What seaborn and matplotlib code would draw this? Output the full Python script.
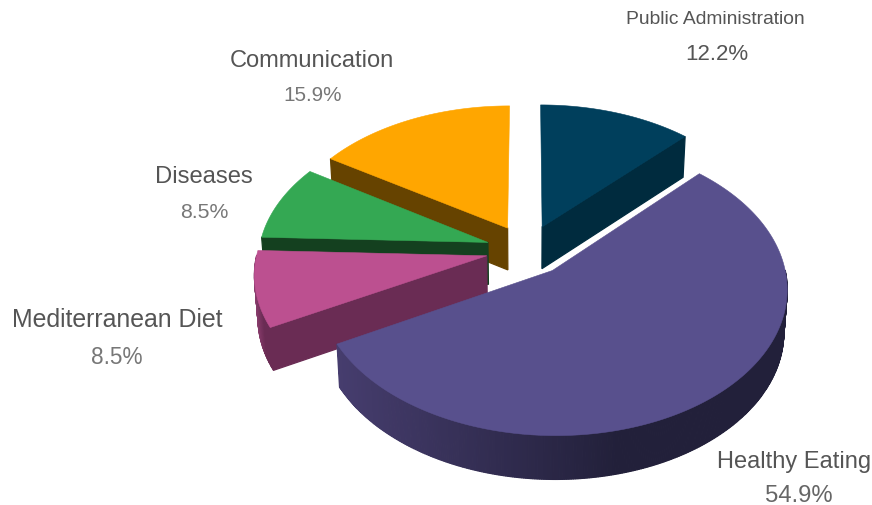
import numpy as np
import matplotlib
matplotlib.use("Agg")
import matplotlib.pyplot as plt
import seaborn as sns

# Slices clockwise from twelve o'clock
topics = ["Public Administration", "Healthy Eating", "Mediterranean Diet", "Diseases", "Communication"]
shares = [12.2, 54.9, 8.5, 8.5, 15.9]
top_colors = ["#003f5c", "#58508d", "#bc5090", "#34a853", "#ffa600"]
cut_colors = ["#002b3e", "#22203a", "#6a2c54", "#14401f", "#664300"]
rim_left_colors = ["#002b3e", "#463d6e", "#8d3f70", "#14401f", "#664300"]
rim_right_colors = ["#002b3e", "#22203a", "#6a2c54", "#14401f", "#664300"]
draw_order = [0, 4, 3, 2, 1]

label_x = [715, 794, 117, 204, 312]
label_y = [19, 462, 320, 177, 61]
pct_x = [717, 799, 117, 204, 313]
pct_y = [54, 496, 358, 213, 95]
label_sizes = [13.9, 17.0, 17.9, 17.1, 17.0]
pct_sizes = [16.0, 17.2, 16.3, 15.3, 14.9]
pct_colors = ["#555555", "#666666", "#777777", "#777777", "#777777"]

# Projection of the tilted disc onto the page, in pixels
CENTER_X, CENTER_Y = 527, 251
RADIUS_X, RADIUS_Y = 229, 141
PERSPECTIVE = 0.115
DEPTH = 42
BASE_SHRINK = 0.013
EXPLODE = 0.18


def project(x, y, drop=0.0):
    scale = 1 / (1 - PERSPECTIVE * y)
    page_x = CENTER_X + RADIUS_X * x * scale * (1 - BASE_SHRINK * drop)
    page_y = CENTER_Y + RADIUS_Y * y * scale + drop * DEPTH * scale ** 0.3
    return page_x, page_y


def wedge_outline(start, stop):
    middle = np.radians((start + stop) / 2)
    off_x, off_y = EXPLODE * np.sin(middle), -EXPLODE * np.cos(middle)
    theta = np.radians(np.linspace(start, stop, int(stop - start) * 2 + 2))
    return off_x, off_y, off_x + np.sin(theta), off_y - np.cos(theta)


def wall(ax, x, y, color):
    top_x, top_y = project(x, y)
    low_x, low_y = project(x, y, 1.0)
    ax.fill(np.r_[top_x, low_x[::-1]], np.r_[top_y, low_y[::-1]],
            color=color, lw=0.9, zorder=next(z_counter))


sns.set_theme(style="white")
plt.rcParams["font.family"] = ["Liberation Sans", "DejaVu Sans"]

fig = plt.figure(figsize=(8.72, 5.06), dpi=100)
ax = fig.add_axes([0, 0, 1, 1])
ax.set_xlim(0, 872)
ax.set_ylim(506, 0)
ax.axis("off")
z_counter = iter(range(1, 100000))

edges = np.r_[0, np.cumsum(shares)] / np.sum(shares) * 360

for i in draw_order:
    start, stop = edges[i], edges[i + 1]
    ox, oy, xs, ys = wedge_outline(start, stop)

    # Curved rim: only the part turned towards the viewer
    ramp = sns.blend_palette([rim_left_colors[i], rim_right_colors[i]], 150)
    screen_x = project(xs, ys)[0]
    span = screen_x.max() - screen_x.min()
    for s in np.argsort(ys[:-1]):
        if ys[s:s + 2].mean() - oy <= 0:
            continue
        t = np.clip((screen_x[s:s + 2].mean() - screen_x.min()) / (0.62 * span), 0, 1)
        wall(ax, xs[s:s + 2], ys[s:s + 2], ramp[int(t * 149)])

    # Straight cut faces, drawn only when they face forward
    if -np.sin(np.radians(start)) > 0:
        wall(ax, np.array([ox, xs[0]]), np.array([oy, ys[0]]), cut_colors[i])
    if np.sin(np.radians(stop)) > 1e-6:
        wall(ax, np.array([ox, xs[-1]]), np.array([oy, ys[-1]]), cut_colors[i])

    top_x, top_y = project(np.r_[ox, xs], np.r_[oy, ys])
    ax.fill(top_x, top_y, color=top_colors[i], lw=0.4, zorder=next(z_counter))

for i, topic in enumerate(topics):
    ax.text(label_x[i], label_y[i], topic, ha="center", va="center",
            fontsize=label_sizes[i], color="#555555", zorder=next(z_counter))
    ax.text(pct_x[i], pct_y[i], f"{shares[i]}%", ha="center", va="center",
            fontsize=pct_sizes[i], color=pct_colors[i], zorder=next(z_counter))

fig.savefig("out.png", dpi=100)
